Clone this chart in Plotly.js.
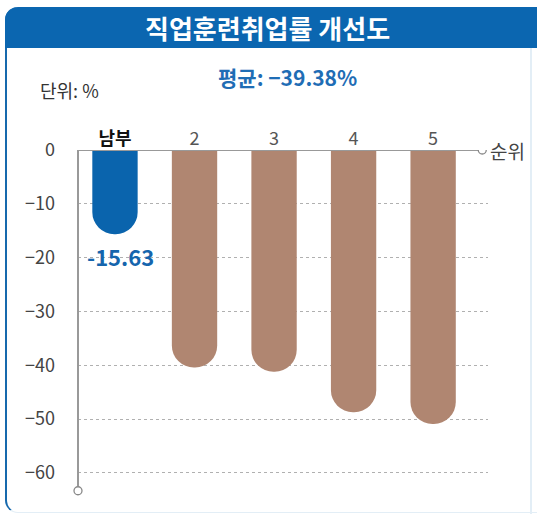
<!DOCTYPE html>
<html>
<head>
<meta charset="utf-8">
<script src="https://cdn.plot.ly/plotly-3.0.1.min.js"></script>
<style>
  html, body { margin: 0; padding: 0; background: #ffffff; }
  #wrap { position: relative; width: 537px; height: 518px; overflow: hidden; background: #ffffff; }
  #frame { position: absolute; left: 5px; top: 7px; width: 560px; height: 505px;
           border-left: 2.5px solid #1769ad; border-bottom: 1.5px solid #e3eef6;
           border-radius: 13px 13px 0 13px; }
  #header { position: absolute; left: 5px; top: 7px; width: 560px; height: 41px;
            background: #0b66b0; border-radius: 13px 13px 0 0; }
  #rline { position: absolute; left: 530px; top: 48px; width: 1.5px; height: 466px; background: #e3eef6; }
  #plot { position: absolute; left: 0; top: 0; width: 537px; height: 518px; }
</style>
</head>
<body>
<div id="wrap">
  <div id="frame"></div>
  <div id="header"></div>
  <div id="rline"></div>
  <div id="plot"></div>
</div>
<script>
// ---- data ----
var categories = ['남부', '2', '3', '4', '5'];
var tickLabels = ['<b><span style="color:#111111">남부</span></b>', '2', '3', '4', '5'];
var values = [-15.63, -40.4, -41.2, -48.7, -50.9];
var barColors = ['#0a64ad', '#b08671', '#b08671', '#b08671', '#b08671'];
var labelShown = [true, false, false, false, false];
var yTicks = [0, -10, -20, -30, -40, -50, -60];
var chartTitle = '직업훈련취업률 개선도';
var averageText = '평균: −39.38%';
var unitText = '단위: %';
var axisName = '순위';

var FONT = '"Noto Sans CJK KR", "Noto Sans", sans-serif';

var trace = {
  type: 'bar',
  x: categories,
  y: values,
  width: categories.map(function () { return 0.57; }),
  marker: { color: barColors, cornerradius: 22, line: { width: 0 } },
  hoverinfo: 'skip'
};

var valueLabels = [];
values.forEach(function (v, i) {
  if (labelShown[i]) {
    valueLabels.push({
      text: '<b>' + v.toFixed(2) + '</b>', xref: 'x', yref: 'y', x: categories[i], y: v,
      xanchor: 'center', yanchor: 'top', yshift: -4, xshift: 6, showarrow: false,
      font: { family: FONT, size: 22, color: '#1565ad' }
    });
  }
});

var layout = {
  width: 537,
  height: 518,
  margin: { l: 78, r: 49, t: 150, b: 21, pad: 0 },
  paper_bgcolor: 'rgba(0,0,0,0)',
  plot_bgcolor: 'rgba(0,0,0,0)',
  showlegend: false,
  font: { family: FONT, color: '#444444' },
  xaxis: {
    type: 'category',
    side: 'top',
    range: [-0.465, 4.69],
    tickmode: 'array',
    tickvals: categories,
    ticktext: tickLabels,
    tickfont: { family: FONT, size: 18, color: '#555555' },
    showgrid: false, zeroline: false, showline: false, ticks: '',
    fixedrange: true
  },
  yaxis: {
    range: [-64.46, 0],
    tickmode: 'array',
    tickvals: yTicks,
    ticktext: yTicks.map(function (t) { return t === 0 ? '0' : '−' + Math.abs(t); }),
    tickfont: { family: FONT, size: 18, color: '#444444' },
    ticklabelstandoff: 22,
    showgrid: true, gridcolor: '#b0b0b0', griddash: 'dot', gridwidth: 1,
    zeroline: false, showline: false, ticks: '',
    fixedrange: true
  },
  shapes: [
    { type: 'line', xref: 'paper', yref: 'y', x0: 0, x1: 0.976, y0: 0, y1: 0,
      line: { color: '#999999', width: 2 }, layer: 'above' },
    { type: 'line', xref: 'paper', yref: 'y', x0: 0, x1: 0, y0: 0.3, y1: -62.5,
      line: { color: '#999999', width: 2 }, layer: 'above' },
    { type: 'circle', xref: 'paper', yref: 'y', xsizemode: 'pixel', ysizemode: 'pixel',
      xanchor: 0.986, yanchor: 0, x0: -4, x1: 4, y0: -4, y1: 4,
      fillcolor: '#ffffff', line: { color: '#888888', width: 1.3 }, layer: 'above' },
    { type: 'circle', xref: 'paper', yref: 'y', xsizemode: 'pixel', ysizemode: 'pixel',
      xanchor: 0, yanchor: -63.3, x0: -4, x1: 4, y0: -4, y1: 4,
      fillcolor: '#ffffff', line: { color: '#888888', width: 1.3 }, layer: 'above' }
  ],
  annotations: [
    { text: '<b>' + chartTitle + '</b>', xref: 'paper', yref: 'paper', x: 0.461, y: 1.354,
      xanchor: 'center', yanchor: 'middle', showarrow: false,
      font: { family: FONT, size: 26, color: '#ffffff' } },
    { text: '<b>' + averageText + '</b>', xref: 'paper', yref: 'paper', x: 0.51, y: 1.21,
      xanchor: 'center', yanchor: 'middle', showarrow: false,
      font: { family: FONT, size: 21, color: '#1f6db5' } },
    { text: unitText, xref: 'paper', yref: 'paper', x: -0.0976, y: 1.173,
      xanchor: 'left', yanchor: 'middle', showarrow: false,
      font: { family: FONT, size: 18, color: '#333333' } },
    { text: axisName, xref: 'paper', yref: 'y', x: 1.0, y: 0,
      xanchor: 'left', yanchor: 'middle', showarrow: false,
      font: { family: FONT, size: 19, color: '#444444' } }
  ].concat(valueLabels)
};

Plotly.newPlot('plot', [trace], layout, { displayModeBar: false, staticPlot: true });
</script>
</body>
</html>
